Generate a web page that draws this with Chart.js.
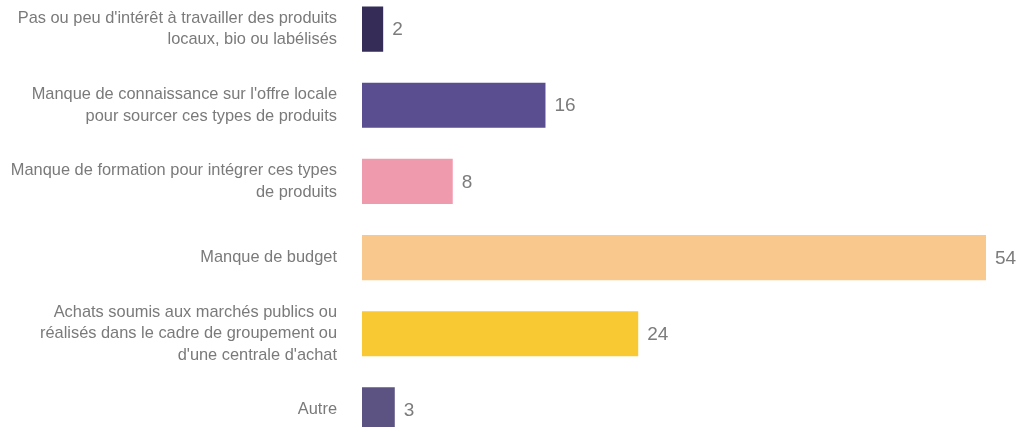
<!DOCTYPE html>
<html lang="fr">
<head>
<meta charset="utf-8">
<script src="https://cdn.jsdelivr.net/npm/chart.js@4"></script>
<style>
    html, body { margin: 0; padding: 0; background: #fff; overflow: hidden; }
    #wrap { position: absolute; left: 0; top: -9px; width: 1019px; height: 457px; }
</style>
</head>
<body>
<div id="wrap"><canvas id="freinsChart"></canvas></div>
<script>
// categories (tick labels, already wrapped as in the source)
const categories = [
    ["Pas ou peu d'intérêt à travailler des produits", "locaux, bio ou labélisés"],
    ["Manque de connaissance sur l'offre locale", "pour sourcer ces types de produits"],
    ["Manque de formation pour intégrer ces types", "de produits"],
    "Manque de budget",
    ["Achats soumis aux marchés publics ou", "réalisés dans le cadre de groupement ou", "d'une centrale d'achat"],
    "Autre"
];
const values = [2, 16, 8, 54, 24, 3];
const xMax = 54;

const barColors = ['#352c57', '#5a4e91', '#f09aae', '#f9c88c', '#f8c932', '#5d5383'];
const fontFamily = "'Liberation Sans', Arial, sans-serif";

// value labels at the end of each bar
const valueLabels = {
    id: 'valueLabels',
    afterDatasetsDraw(chart) {
        const ctx = chart.ctx;
        const meta = chart.getDatasetMeta(0);
        ctx.save();
        ctx.font = '19px ' + fontFamily;
        ctx.fillStyle = '#7c7c7c';
        ctx.textAlign = 'left';
        ctx.textBaseline = 'middle';
        meta.data.forEach((bar, i) => {
            ctx.fillText(String(values[i]), bar.x + 8, bar.y + 1);
        });
        ctx.restore();
    }
};

const ctx = document.getElementById('freinsChart').getContext('2d');
new Chart(ctx, {
    type: 'bar',
    data: {
        labels: categories,
        datasets: [{
            data: values,
            backgroundColor: barColors,
            borderColor: 'rgba(255, 255, 255, 0.4)',
            borderWidth: 1,
            borderSkipped: false,
            categoryPercentage: 1,
            barPercentage: 0.62
        }]
    },
    options: {
        indexAxis: 'y',
        responsive: true,
        maintainAspectRatio: false,
        animation: false,
        layout: { padding: { left: 0, right: 32, top: 0, bottom: 0 } },
        plugins: {
            legend: { display: false },
            tooltip: { enabled: false }
        },
        scales: {
            x: {
                display: false,
                min: 0,
                max: xMax
            },
            y: {
                grid: { display: false, drawTicks: false },
                border: { display: false },
                ticks: {
                    padding: 24,
                    color: '#7a7a7a',
                    font: { family: fontFamily, size: 16.4, lineHeight: 1.32 }
                },
                afterFit: (axis) => {
                    // fixed label column, no extra room kept for the end labels
                    axis.width = 361;
                    axis.paddingTop = 0;
                    axis.paddingBottom = 0;
                }
            }
        }
    },
    plugins: [valueLabels]
});
</script>
</body>
</html>
